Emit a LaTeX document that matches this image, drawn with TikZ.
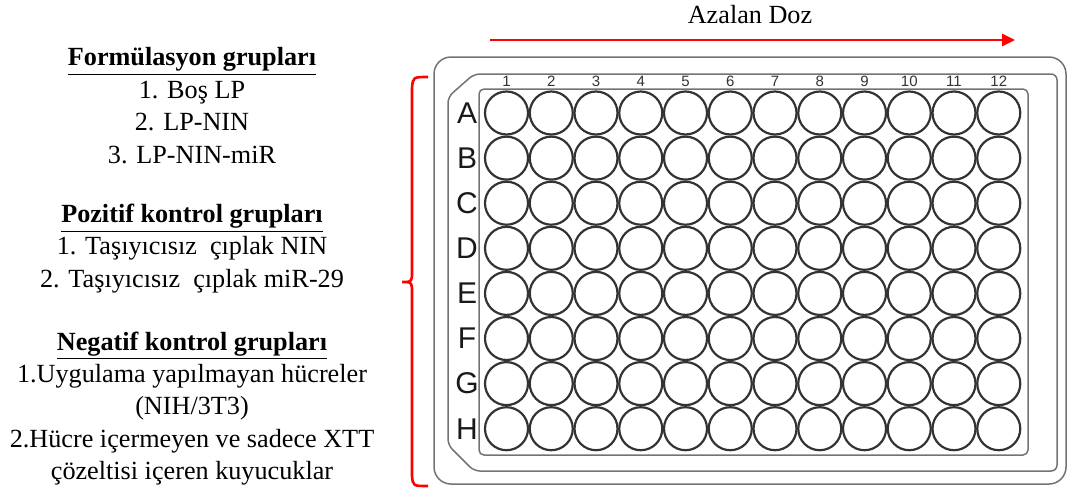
\documentclass[tikz,border=0pt]{standalone}
\usepackage{fontspec}
\setmainfont{Liberation Serif}
\newfontfamily\arialfont{Liberation Sans}
\usetikzlibrary{arrows.meta}

\begin{document}
\begin{tikzpicture}[x=0.5pt,y=-0.5pt,thick,
   kuyu/.style={circle,draw=black!80,line width=1.1pt,minimum size=21.5pt,inner sep=0pt},
   satir/.style={font=\arialfont\fontsize{15}{15}\selectfont,text=black!90},
   sutun/.style={font=\arialfont\fontsize{7.5}{7.5}\selectfont,text=black!80},
   grup/.style={align=center,font=\fontsize{13.1}{16.2}\selectfont},
   plaka/.style={draw=black!55,line width=0.75pt},
   kirmizi/.style={draw=red,line width=1.3pt}]

  \useasboundingbox (0,0) rectangle (1068,488);

  % plaka
  \draw[plaka,rounded corners=8.5pt] (434,57) rectangle (1066,484);
  \draw[plaka,rounded corners=3pt] (474,74) -- (1057,74) -- (1057,471) -- (474,471) -- (448,445) -- (448,97) -- cycle;
  \draw[plaka,rounded corners=2.5pt] (479,89) rectangle (1028,455);

  % kuyucuklar
  \foreach \sat [count=\i from 0] in {A,B,C,D,E,F,G,H} {
    \node[satir] (s\sat) at (467,113+45.1*\i) {\sat};
    \foreach \sut in {1,...,12}
      \node[kuyu] (\sat\sut) at (506.5+44.75*\sut-44.75,113+45.1*\i) {};
  }
  \foreach \sut in {1,...,12}
    \node[sutun] (n\sut) at (506.5+44.75*\sut-44.75,81) {\sut};

  % doz oku
  \coordinate (okbas) at (490,40);
  \coordinate (okson) at (1015,40);
  \draw[kirmizi,-{Triangle[length=6.5pt,width=6pt]}] (okbas) -- (okson);
  \node[grup] (doz) at (750,15) {Azalan Doz};

  % parantez
  \draw[kirmizi] (428,77) .. controls (413,77) .. (412,88) -- (412,276)
     .. controls (411,282) .. (402,282) .. controls (411,282) .. (412,288)
     -- (412,476) .. controls (413,486) .. (428,486);

  % gruplar
  \node[grup] (formul) at (192,105.5) {\textbf{\underline{Formülasyon grupları}}\\1. Boş LP\\2. LP-NIN\\3. LP-NIN-miR};
  \node[grup] (pozitif) at (192,248.5) {\textbf{\underline{Pozitif kontrol grupları}}\\1. Taşıyıcısız\ \ çıplak NIN\\2. Taşıyıcısız\ \ çıplak miR-29};
  \node[grup] (negatif) at (192,408.5) {\textbf{\underline{Negatif kontrol grupları}}\\1.Uygulama yapılmayan hücreler\\(NIH/3T3)\\2.Hücre içermeyen ve sadece XTT\\çözeltisi içeren kuyucuklar};
\end{tikzpicture}
\end{document}
